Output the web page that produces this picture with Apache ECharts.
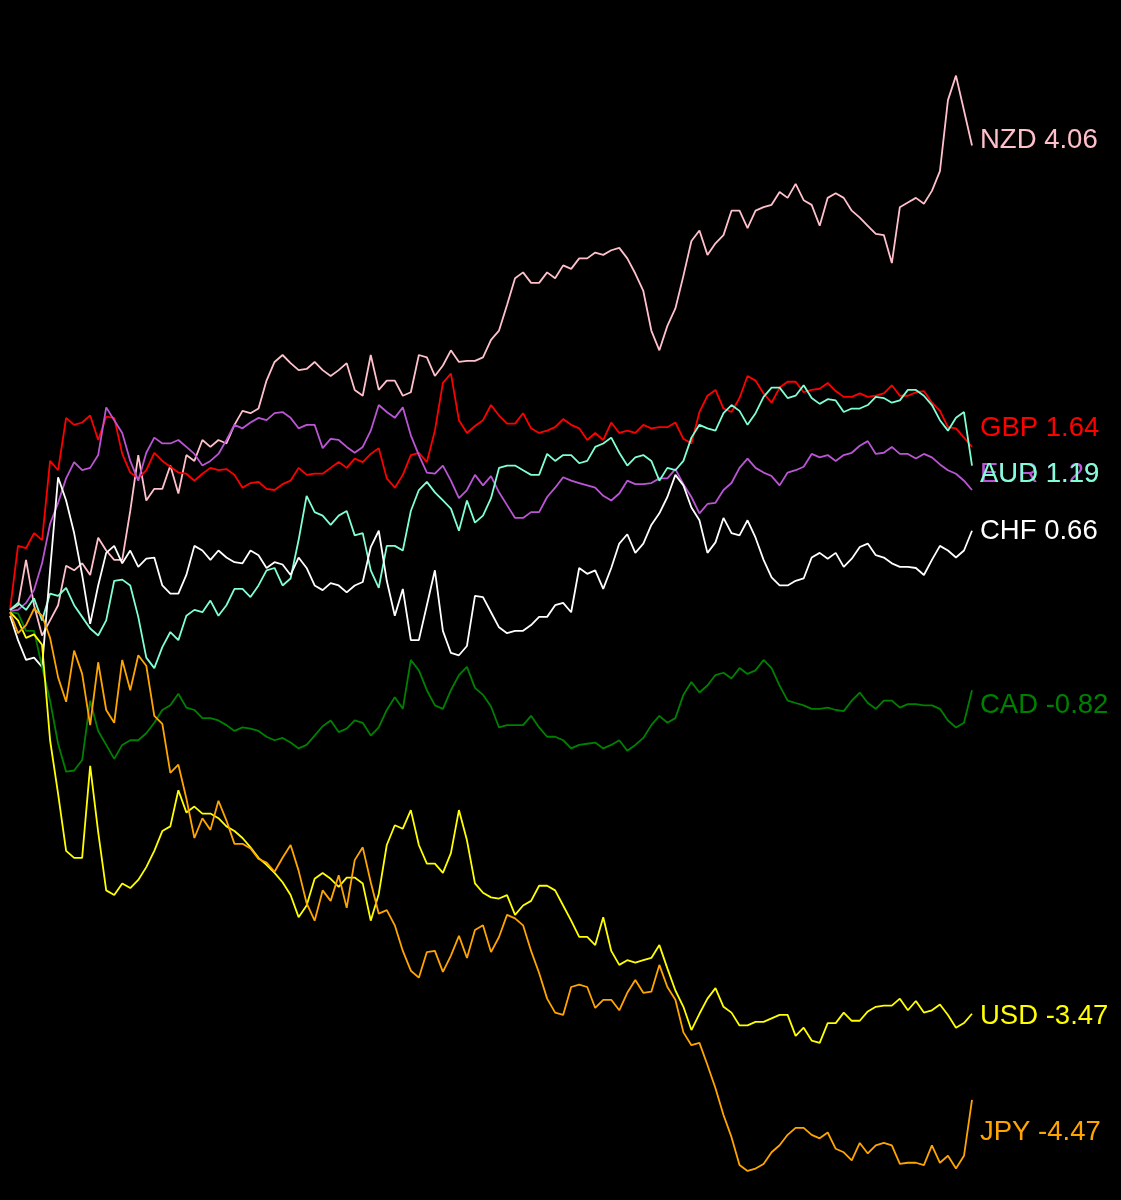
<!DOCTYPE html>
<html><head><meta charset="utf-8">
<script src="https://cdn.jsdelivr.net/npm/echarts@6/dist/echarts.min.js"></script>
<style>html,body{margin:0;padding:0;background:#000}#c{width:1121px;height:1200px}</style>
</head><body><div id="c"></div><script>
const currencies = ['NZD','GBP','EUR','AUD','CHF','CAD','USD','JPY'];
const colors = ['#ffc0cb','#ff0000','#ba55d3','#7fffd4','#ffffff','#008000','#ffff00','#ffa500'];
const finalChange = [4.06, 1.64, 1.29, 1.19, 0.66, -0.82, -3.47, -4.47];
const labelAnchor = [4.06, 1.59, 1.19, 1.19, 0.70, -0.79, -3.46, -4.46];

const NZD = [0.03,0.07,0.46,0.07,-0.19,-0.06,0.07,0.41,0.37,0.43,0.33,0.65,0.54,0.46,0.46,0.88,1.36,0.97,1.07,1.07,
1.27,1.03,1.36,1.31,1.49,1.43,1.49,1.46,1.62,1.74,1.72,1.76,2.00,2.16,2.22,2.15,2.09,2.10,2.16,2.09,
2.04,2.09,2.15,1.92,1.87,2.22,1.92,2.00,2.00,1.87,1.90,2.22,2.20,2.04,2.13,2.26,2.16,2.17,2.17,2.20,
2.35,2.43,2.65,2.88,2.93,2.84,2.84,2.93,2.88,2.99,2.96,3.05,3.05,3.10,3.08,3.12,3.14,3.05,2.92,2.77,
2.43,2.26,2.47,2.62,2.90,3.20,3.29,3.08,3.18,3.25,3.46,3.46,3.31,3.46,3.49,3.51,3.62,3.57,3.69,3.55,
3.51,3.33,3.57,3.61,3.57,3.46,3.40,3.33,3.26,3.25,3.01,3.49,3.53,3.57,3.52,3.63,3.80,4.41,4.62,4.32,4.02];
const GBP = [0.03,0.58,0.56,0.69,0.63,1.31,1.23,1.68,1.62,1.64,1.70,1.49,1.69,1.68,1.37,1.21,1.16,1.23,1.38,1.31,
1.26,1.21,1.20,1.14,1.20,1.25,1.23,1.24,1.19,1.08,1.12,1.13,1.07,1.06,1.11,1.14,1.25,1.19,1.20,1.20,
1.25,1.30,1.25,1.33,1.30,1.37,1.42,1.16,1.08,1.19,1.36,1.38,1.30,1.57,1.98,2.06,1.66,1.55,1.61,1.66,
1.79,1.70,1.63,1.63,1.72,1.59,1.55,1.57,1.60,1.67,1.62,1.59,1.49,1.55,1.49,1.64,1.55,1.57,1.55,1.62,
1.59,1.60,1.60,1.64,1.50,1.46,1.73,1.87,1.92,1.76,1.73,1.85,2.04,2.00,1.89,1.81,1.94,1.99,1.99,1.90,
1.92,1.93,1.98,1.91,1.86,1.86,1.89,1.86,1.87,1.89,1.96,1.87,1.87,1.90,1.91,1.81,1.74,1.60,1.59,1.51,1.43];
const EUR = [0.02,0.03,0.09,0.20,0.43,0.77,0.95,1.16,1.30,1.23,1.25,1.36,1.77,1.66,1.55,1.31,1.14,1.38,1.51,1.46,
1.46,1.49,1.43,1.37,1.27,1.31,1.37,1.49,1.62,1.59,1.64,1.68,1.66,1.72,1.73,1.68,1.59,1.62,1.62,1.42,
1.50,1.49,1.43,1.38,1.43,1.57,1.79,1.73,1.68,1.77,1.53,1.36,1.21,1.20,1.27,1.14,0.99,1.06,1.19,1.10,
1.18,1.04,0.93,0.82,0.82,0.87,0.87,1.00,1.08,1.17,1.14,1.12,1.10,1.08,1.01,0.97,1.03,1.14,1.11,1.11,
1.12,1.16,1.16,1.24,1.11,1.00,0.86,0.94,0.95,1.06,1.12,1.25,1.33,1.25,1.21,1.18,1.10,1.21,1.23,1.26,
1.37,1.34,1.36,1.31,1.36,1.38,1.44,1.48,1.37,1.38,1.43,1.37,1.37,1.33,1.37,1.34,1.28,1.23,1.20,1.14,1.06];
const AUD = [0.03,0.09,0.03,0.13,-0.06,0.17,0.15,0.22,0.07,-0.03,-0.13,-0.19,-0.06,0.28,0.29,0.24,-0.03,-0.38,-0.47,-0.29,
-0.16,-0.23,-0.02,0.03,0.01,0.11,-0.02,0.07,0.21,0.21,0.14,0.24,0.37,0.39,0.24,0.30,0.63,1.01,0.87,0.84,
0.76,0.84,0.88,0.67,0.69,0.37,0.22,0.58,0.58,0.54,0.88,1.06,1.13,1.04,0.97,0.90,0.71,0.97,0.78,0.84,
0.99,1.25,1.27,1.27,1.23,1.19,1.19,1.37,1.31,1.36,1.36,1.29,1.31,1.43,1.46,1.51,1.38,1.27,1.34,1.36,
1.31,1.14,1.25,1.23,1.31,1.51,1.62,1.59,1.57,1.72,1.79,1.74,1.62,1.72,1.86,1.94,1.94,1.85,1.87,1.96,
1.85,1.80,1.84,1.83,1.73,1.76,1.76,1.79,1.86,1.85,1.81,1.83,1.92,1.92,1.87,1.79,1.66,1.57,1.68,1.73,1.27];
const CHF = [-0.02,-0.23,-0.40,-0.38,-0.46,0.37,1.17,0.97,0.69,0.33,-0.09,0.24,0.52,0.58,0.43,0.54,0.40,0.47,0.48,0.24,
0.17,0.17,0.33,0.58,0.54,0.46,0.54,0.48,0.44,0.43,0.54,0.50,0.39,0.44,0.42,0.33,0.48,0.39,0.24,0.20,
0.26,0.24,0.18,0.24,0.27,0.57,0.71,0.28,-0.02,0.21,-0.23,-0.23,0.07,0.37,-0.15,-0.34,-0.36,-0.28,0.15,0.14,
0.01,-0.12,-0.17,-0.15,-0.15,-0.10,-0.03,-0.03,0.07,0.09,0.01,0.39,0.34,0.37,0.21,0.39,0.60,0.68,0.52,0.60,
0.76,0.86,1.00,1.19,1.10,0.91,0.80,0.52,0.61,0.82,0.69,0.67,0.80,0.65,0.46,0.31,0.24,0.24,0.28,0.30,
0.48,0.52,0.47,0.52,0.40,0.47,0.57,0.60,0.50,0.48,0.43,0.40,0.40,0.39,0.33,0.46,0.58,0.54,0.48,0.54,0.71];
const CAD = [0.01,0.00,-0.15,-0.15,-0.46,-0.75,-1.12,-1.36,-1.35,-1.26,-0.75,-1.01,-1.13,-1.25,-1.13,-1.09,-1.09,-1.03,-0.94,-0.83,
-0.79,-0.69,-0.81,-0.83,-0.90,-0.90,-0.92,-0.96,-1.01,-0.98,-0.99,-1.01,-1.06,-1.09,-1.07,-1.11,-1.16,-1.13,-1.05,-0.97,
-0.92,-1.02,-0.99,-0.92,-0.94,-1.05,-0.98,-0.83,-0.72,-0.82,-0.40,-0.49,-0.66,-0.79,-0.82,-0.66,-0.53,-0.46,-0.64,-0.70,
-0.80,-0.98,-0.96,-0.96,-0.96,-0.88,-0.98,-1.06,-1.06,-1.09,-1.16,-1.13,-1.12,-1.11,-1.16,-1.13,-1.09,-1.18,-1.13,-1.07,
-0.96,-0.88,-0.94,-0.90,-0.70,-0.59,-0.68,-0.62,-0.53,-0.51,-0.56,-0.47,-0.52,-0.49,-0.40,-0.47,-0.62,-0.75,-0.77,-0.79,
-0.82,-0.82,-0.81,-0.83,-0.84,-0.75,-0.68,-0.77,-0.82,-0.75,-0.75,-0.81,-0.78,-0.78,-0.79,-0.79,-0.82,-0.92,-0.98,-0.94,-0.66];
const USD = [0.01,-0.06,-0.21,-0.18,-0.27,-1.09,-1.55,-2.04,-2.10,-2.10,-1.31,-1.88,-2.38,-2.42,-2.32,-2.36,-2.29,-2.18,-2.04,-1.87,
-1.83,-1.52,-1.71,-1.66,-1.72,-1.72,-1.76,-1.83,-1.87,-1.93,-2.01,-2.10,-2.16,-2.23,-2.31,-2.42,-2.61,-2.51,-2.28,-2.23,
-2.28,-2.35,-2.27,-2.27,-2.32,-2.64,-2.41,-1.99,-1.82,-1.85,-1.69,-1.99,-2.15,-2.15,-2.23,-2.06,-1.69,-1.95,-2.32,-2.40,
-2.44,-2.45,-2.42,-2.59,-2.51,-2.47,-2.34,-2.34,-2.38,-2.51,-2.64,-2.78,-2.78,-2.85,-2.61,-2.90,-3.02,-2.98,-3.00,-2.98,
-2.96,-2.85,-3.05,-3.24,-3.38,-3.58,-3.44,-3.31,-3.22,-3.38,-3.43,-3.54,-3.54,-3.51,-3.51,-3.48,-3.45,-3.45,-3.63,-3.56,
-3.67,-3.69,-3.52,-3.52,-3.43,-3.50,-3.50,-3.42,-3.38,-3.37,-3.37,-3.31,-3.41,-3.33,-3.43,-3.41,-3.36,-3.45,-3.56,-3.52,-3.44];
const JPY = [0.01,-0.17,-0.10,0.04,-0.02,-0.21,-0.55,-0.76,-0.32,-0.52,-0.96,-0.42,-0.83,-0.94,-0.40,-0.66,-0.36,-0.45,-0.88,-0.95,
-1.37,-1.30,-1.59,-1.93,-1.76,-1.86,-1.61,-1.78,-1.98,-1.98,-2.02,-2.11,-2.14,-2.22,-2.10,-1.99,-2.21,-2.49,-2.64,-2.38,
-2.47,-2.25,-2.53,-2.12,-2.01,-2.31,-2.58,-2.55,-2.68,-2.90,-3.07,-3.13,-2.91,-2.90,-3.08,-2.94,-2.77,-2.96,-2.72,-2.68,
-2.91,-2.78,-2.59,-2.62,-2.68,-2.90,-3.09,-3.31,-3.43,-3.45,-3.21,-3.19,-3.21,-3.39,-3.32,-3.32,-3.41,-3.26,-3.15,-3.26,
-3.25,-3.02,-3.21,-3.32,-3.60,-3.71,-3.69,-3.88,-4.08,-4.31,-4.50,-4.74,-4.79,-4.77,-4.73,-4.63,-4.57,-4.48,-4.42,-4.42,
-4.48,-4.51,-4.46,-4.60,-4.63,-4.70,-4.55,-4.64,-4.57,-4.55,-4.57,-4.73,-4.72,-4.72,-4.74,-4.57,-4.72,-4.66,-4.77,-4.66,-4.18];

const seriesData = [NZD, GBP, EUR, AUD, CHF, CAD, USD, JPY];
const days = NZD.map((_, i) => i);
const last = days.length - 1;

const chart = echarts.init(document.getElementById('c'), null, {renderer: 'canvas'});
chart.setOption({
  backgroundColor: '#000',
  animation: false,
  grid: {left: 10, right: 149, top: 0, bottom: 0, containLabel: false},
  xAxis: {type: 'category', data: days, boundaryGap: false, show: false},
  yAxis: {type: 'value', min: -5.04, max: 5.27, show: false, splitLine: {show: false}},
  series: currencies.map((name, k) => ({
    name: name,
    type: 'line',
    data: seriesData[k],
    symbol: 'none',
    lineStyle: {color: colors[k], width: 1.8},
    itemStyle: {color: colors[k]},
    markPoint: {
      symbol: 'circle',
      symbolSize: 0,
      silent: true,
      data: [{coord: [last, labelAnchor[k]], value: finalChange[k]}],
      label: {
        show: true,
        position: 'right',
        distance: 8,
        color: colors[k],
        fontFamily: 'Liberation Sans, Arial, sans-serif',
        fontSize: 27.5,
        formatter: () => name + ' ' + finalChange[k].toFixed(2)
      }
    }
  }))
});
</script></body></html>
